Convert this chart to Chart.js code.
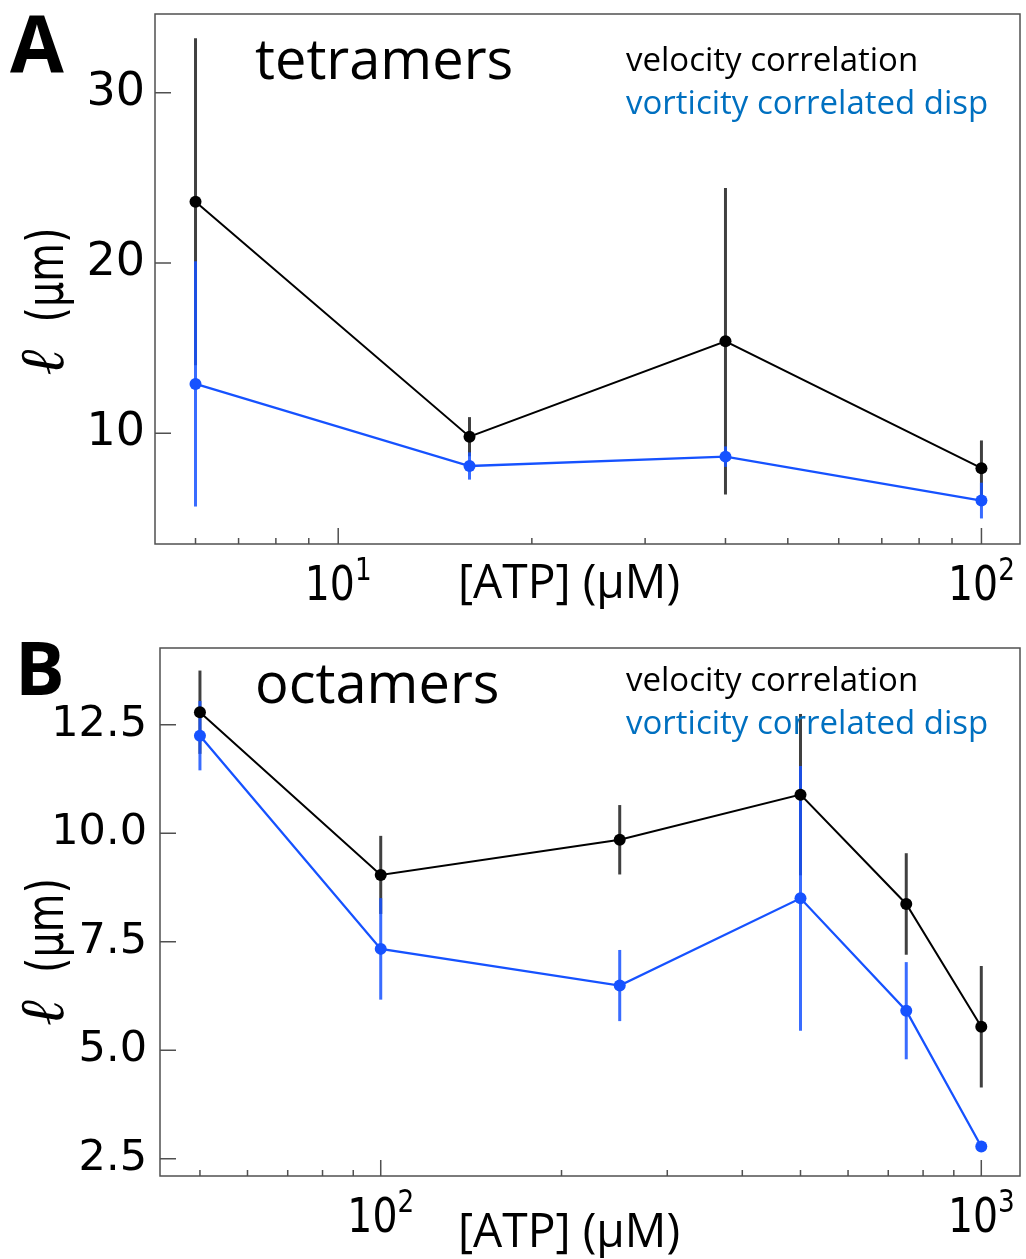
<!DOCTYPE html>
<html>
<head>
<meta charset="utf-8">
<script src="https://cdn.jsdelivr.net/npm/chart.js@4.4.1/dist/chart.umd.min.js"></script>
<style>
  html, body { margin: 0; padding: 0; background: #fff; }
  .wrap { position: absolute; left: 0; width: 1026px; }
  #wrapA { top: 0; height: 620px; }
  #wrapB { top: 620px; height: 639px; }
</style>
</head>
<body>
<div class="wrap" id="wrapA"><canvas id="chartA"></canvas></div>
<div class="wrap" id="wrapB"><canvas id="chartB"></canvas></div>
<script>
// panel A : tetramers
const atpA = [6, 16, 40, 100];
const velA = [23.6, 9.8, 15.4, 7.95];
const velErrA = [9.6, 1.15, 9.0, 1.63];
const vortA = [12.9, 8.08, 8.63, 6.05];
const vortErrA = [7.2, 0.8, 0.6, 1.05];
const yTicksA = [10, 20, 30];
const yLabelsA = ['10', '20', '30'];
const xTicksA = [6, 7, 8, 9, 10, 20, 30, 40, 50, 60, 70, 80, 90, 100];
const xMajorA = [10, 100];
const xExpA = ['1', '2'];

// panel B : octamers
const atpB = [50, 100, 250, 500, 750, 1000];
const velB = [12.79, 9.04, 9.85, 10.89, 8.37, 5.54];
const velErrB = [0.96, 0.9, 0.8, 1.86, 1.17, 1.4];
const vortB = [12.25, 7.335, 6.49, 8.5, 5.91, 2.78];
const vortErrB = [0.8, 1.17, 0.82, 3.05, 1.12, 0];
const yTicksB = [2.5, 5, 7.5, 10, 12.5];
const yLabelsB = ['2.5', '5.0', '7.5', '10.0', '12.5'];
const xTicksB = [50, 60, 70, 80, 90, 100, 200, 300, 400, 500, 600, 700, 800, 900, 1000];
const xMajorB = [100, 1000];
const xExpB = ['2', '3'];

const BLACK = '#000000';
const BLUE = '#1652ff';
const AXIS = '#505050';

function txt(ctx, s, x, y, font, color, maxW) {
  ctx.font = font;
  ctx.fillStyle = color;
  ctx.textAlign = 'left';
  ctx.textBaseline = 'alphabetic';
  if (maxW) ctx.fillText(s, x, y, maxW); else ctx.fillText(s, x, y);
}

const panelPlugin = {
  id: 'panel',
  beforeDatasetsDraw(chart, args, o) {
    const { ctx, chartArea: a, scales: { x, y } } = chart;
    ctx.save();
    ctx.beginPath();
    ctx.rect(a.left, a.top, a.right - a.left, a.bottom - a.top);
    ctx.clip();
    ctx.lineWidth = 3;
    o.errors.forEach(s => {
      ctx.strokeStyle = s.color;
      s.xs.forEach((xv, i) => {
        if (!s.err[i]) return;
        const px = x.getPixelForValue(xv);
        ctx.beginPath();
        ctx.moveTo(px, y.getPixelForValue(s.ys[i] - s.err[i]));
        ctx.lineTo(px, y.getPixelForValue(s.ys[i] + s.err[i]));
        ctx.stroke();
      });
    });
    ctx.restore();
  },
  afterDraw(chart, args, o) {
    const { ctx, chartArea: a, scales: { x, y } } = chart;
    const off = o.top;
    ctx.save();
    // frame + inward ticks
    ctx.strokeStyle = AXIS;
    ctx.lineWidth = 1.5;
    ctx.strokeRect(a.left, a.top, a.right - a.left, a.bottom - a.top);
    ctx.beginPath();
    y.ticks.forEach(t => {
      const py = y.getPixelForValue(t.value);
      ctx.moveTo(a.left, py); ctx.lineTo(a.left + 16, py);
    });
    x.ticks.forEach(t => {
      const px = x.getPixelForValue(t.value);
      const len = o.xMajor.includes(t.value) ? 16 : 6;
      ctx.moveTo(px, a.bottom); ctx.lineTo(px, a.bottom - len);
    });
    ctx.stroke();

    // x tick labels 10^n
    const sx = 0.82;
    o.xMajor.forEach((m, i) => {
      const px = x.getPixelForValue(m);
      ctx.font = '48px "DejaVu Sans"';
      const wb = ctx.measureText('10').width;
      ctx.font = '32px "DejaVu Sans"';
      const ws = ctx.measureText(o.xExp[i]).width;
      const start = px - (wb + ws) * sx / 2;
      ctx.save();
      ctx.translate(start, o.xLabelBase - off);
      ctx.scale(sx, 1);
      txt(ctx, '10', 0, 0, '48px "DejaVu Sans"', '#000');
      txt(ctx, o.xExp[i], wb, -20, '32px "DejaVu Sans"', '#000');
      ctx.restore();
    });

    // axis titles
    txt(ctx, '[ATP] (\u00b5M)', 458, o.xTitleBase - off, '47px "Open Sans"', '#000', 222);
    ctx.save();
    ctx.translate(63, o.yTitleCy - off);
    ctx.rotate(-Math.PI / 2);
    txt(ctx, '\u2113', -74, 0, 'italic 62px "DejaVu Serif"', '#000', 34);
    txt(ctx, '(\u00b5m)', -21, 0, '52px "DejaVu Sans"', '#000', 95);
    ctx.restore();

    // panel letter, name, legend text
    txt(ctx, o.letter, o.letterX, o.letterBase - off, 'bold ' + o.letterSize + 'px "Open Sans"', '#000');
    txt(ctx, o.name, 255, o.nameBase - off, '56px "Open Sans"', '#000');
    txt(ctx, 'velocity correlation', 626, o.legBase - off, '33px "Open Sans"', '#000');
    txt(ctx, 'vorticity correlated disp', 626, o.legBase + 43 - off, '33px "Open Sans"', '#0070c0');
    ctx.restore();
  }
};

function makePanel(id, p) {
  const pts = (xs, ys) => xs.map((v, i) => ({ x: v, y: ys[i] }));
  return new Chart(document.getElementById(id), {
    type: 'line',
    data: {
      datasets: [
        {
          data: pts(p.atp, p.vel), borderColor: BLACK, backgroundColor: BLACK,
          borderWidth: 2, pointRadius: 6, pointBorderWidth: 0, pointBackgroundColor: BLACK, tension: 0
        },
        {
          data: pts(p.atp, p.vort), borderColor: BLUE, backgroundColor: BLUE,
          borderWidth: 2.3, pointRadius: 6, pointBorderWidth: 0, pointBackgroundColor: BLUE, tension: 0
        }
      ]
    },
    options: {
      responsive: true,
      maintainAspectRatio: false,
      animation: false,
      devicePixelRatio: 1,
      layout: { padding: { top: p.padTop, right: 5, left: 0, bottom: 0 } },
      scales: {
        x: {
          type: 'logarithmic', min: p.xMin, max: p.xMax,
          grid: { display: false }, border: { display: false },
          ticks: { display: false },
          afterBuildTicks: s => { s.ticks = p.xTicks.map(v => ({ value: v })); },
          afterFit: s => { s.height = p.xHeight; s.paddingLeft = 0; s.paddingRight = 0; }
        },
        y: {
          type: 'linear', min: p.yMin, max: p.yMax,
          grid: { display: false, drawTicks: false }, border: { display: false },
          ticks: {
            padding: p.yPad, color: '#000',
            font: { family: 'DejaVu Sans', size: p.yFont },
            callback: (v, i) => p.yLabels[i]
          },
          afterBuildTicks: s => { s.ticks = p.yTicks.map(v => ({ value: v })); },
          afterFit: s => { s.width = p.yWidth; s.paddingTop = 0; s.paddingBottom = 0; }
        }
      },
      plugins: {
        legend: { display: false },
        tooltip: { enabled: false },
        panel: p.deco
      }
    },
    plugins: [panelPlugin]
  });
}

makePanel('chartA', {
  atp: atpA, vel: velA, vort: vortA,
  xMin: 5.19, xMax: 114.8, yMin: 3.5, yMax: 34.62,
  xTicks: xTicksA, yTicks: yTicksA, yLabels: yLabelsA,
  padTop: 14, xHeight: 76, yWidth: 155, yPad: 10, yFont: 46,
  deco: {
    top: 0, letter: 'A', letterX: 10, letterBase: 72, letterSize: 78,
    name: 'tetramers', nameBase: 79, legBase: 71,
    xTitleBase: 598, xLabelBase: 600, yTitleCy: 301.5,
    xMajor: xMajorA, xExp: xExpA,
    errors: [
      { xs: atpA, ys: velA, err: velErrA, color: 'rgba(0,0,0,0.75)' },
      { xs: atpA, ys: vortA, err: vortErrA, color: 'rgba(22,82,255,0.85)' }
    ]
  }
});

makePanel('chartB', {
  atp: atpB, vel: velB, vort: vortB,
  xMin: 42.9, xMax: 1160, yMin: 2.1, yMax: 14.27,
  xTicks: xTicksB, yTicks: yTicksB, yLabels: yLabelsB,
  padTop: 28, xHeight: 83, yWidth: 160, yPad: 13, yFont: 43,
  deco: {
    top: 620, letter: 'B', letterX: 15, letterBase: 695, letterSize: 74,
    name: 'octamers', nameBase: 703, legBase: 691,
    xTitleBase: 1247, xLabelBase: 1232, yTitleCy: 952,
    xMajor: xMajorB, xExp: xExpB,
    errors: [
      { xs: atpB, ys: velB, err: velErrB, color: 'rgba(0,0,0,0.75)' },
      { xs: atpB, ys: vortB, err: vortErrB, color: 'rgba(22,82,255,0.85)' }
    ]
  }
});
</script>
</body>
</html>
